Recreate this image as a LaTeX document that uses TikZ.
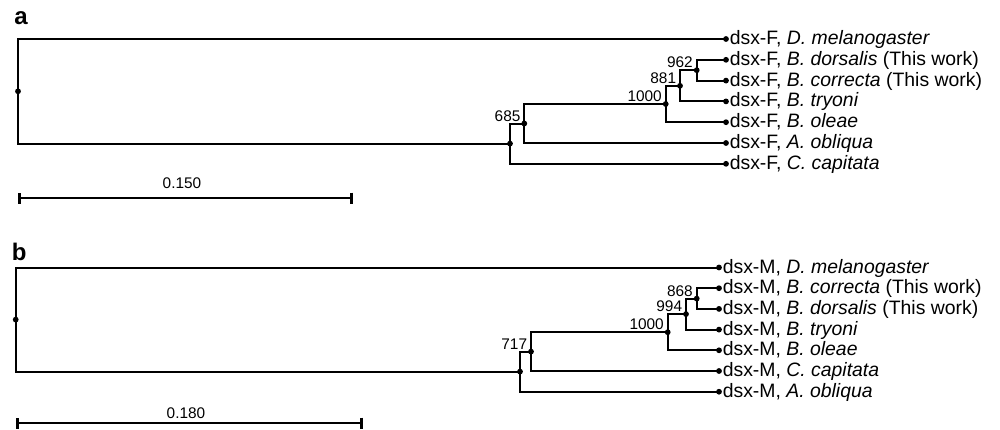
\documentclass[tikz,border=0pt]{standalone}
\usepackage{fontspec}
\setmainfont{Liberation Sans}
\usetikzlibrary{arrows.meta}

\tikzset{
  branch/.style={line width=1pt},
  leaflabel/.style={anchor=base west, inner sep=0pt, xshift=1.7pt, yshift=-2.75pt, font=\fontsize{9.7}{11}\selectfont},
  support/.style={anchor=base east, inner sep=0pt, xshift=-1.75pt, yshift=1.25pt, font=\fontsize{7.7}{9}\selectfont},
  panel/.style={anchor=base west, inner sep=0pt, font=\fontsize{12}{14}\selectfont\bfseries},
  scalebar/.style={line width=1.3pt, {Bar[width=5.5pt]}-{Bar[width=5.5pt]}},
  barlabel/.style={anchor=base, inner sep=0pt, font=\fontsize{7.7}{9}\selectfont}
}

\begin{document}
\begin{tikzpicture}[x=0.5pt, y=-0.5pt]
    \useasboundingbox (0,0) rectangle (1000,429);

    % Panel a: dsx-F
    \node [panel] (labA) at (14,24) {a};

    % Tips a
    \coordinate (Fmel) at (726, 39.0);
    \coordinate (Fdor) at (726, 59.8);
    \coordinate (Fcor) at (726, 80.6);
    \coordinate (Ftry) at (726,101.4);
    \coordinate (Fole) at (726,122.2);
    \coordinate (Fobl) at (726,143.0);
    \coordinate (Fcap) at (726,163.8);

    % Internal nodes a
    \coordinate (F962)  at (696.7, 70.2);
    \coordinate (F881)  at (680.0, 85.8);
    \coordinate (F1000) at (665.7,104.0);
    \coordinate (F685)  at (524.3,123.5);
    \coordinate (Fout)  at (510.0,143.6);
    \coordinate (Froot) at ( 18.0, 91.3);

    % Branches a
    \draw [branch] (Froot) |- (Fmel);
    \draw [branch] (Froot) |- (Fout);
    \draw [branch] (Fout) |- (F685);
    \draw [branch] (Fout) |- (Fcap);
    \draw [branch] (F685) |- (F1000);
    \draw [branch] (F685) |- (Fobl);
    \draw [branch] (F1000) |- (F881);
    \draw [branch] (F1000) |- (Fole);
    \draw [branch] (F881) |- (F962);
    \draw [branch] (F881) |- (Ftry);
    \draw [branch] (F962) |- (Fdor);
    \draw [branch] (F962) |- (Fcor);
    \foreach \n in {Fmel,Fdor,Fcor,Ftry,Fole,Fobl,Fcap,F962,F881,F1000,F685,Fout,Froot}
        \fill (\n) circle (1.45pt);

    % Support values a
    \node [support] (sF962)  at (F962)  {962};
    \node [support] (sF881)  at (F881)  {881};
    \node [support] (sF1000) at (F1000) {1000};
    \node [support] (sF685)  at (F685)  {685};

    % Tip labels a
    \node [leaflabel] (tFmel) at (Fmel) {dsx-F, \textit{D. melanogaster}};
    \node [leaflabel] (tFdor) at (Fdor) {dsx-F, \textit{B. dorsalis} (This work)};
    \node [leaflabel] (tFcor) at (Fcor) {dsx-F, \textit{B. correcta} (This work)};
    \node [leaflabel] (tFtry) at (Ftry) {dsx-F, \textit{B. tryoni}};
    \node [leaflabel] (tFole) at (Fole) {dsx-F, \textit{B. oleae}};
    \node [leaflabel] (tFobl) at (Fobl) {dsx-F, \textit{A. obliqua}};
    \node [leaflabel] (tFcap) at (Fcap) {dsx-F, \textit{C. capitata}};

    % Scale bar a
    \coordinate (barA0) at (18,198);
    \coordinate (barA1) at (353,198);
    \draw [scalebar] (barA0) -- (barA1);
    \node [barlabel] (lbarA) at (182,188.3) {0.150};

    % Panel b: dsx-M
    \node [panel] (labB) at (11.5,260) {b};

    % Tips b
    \coordinate (Mmel) at (719,267.5);
    \coordinate (Mcor) at (719,288.2);
    \coordinate (Mdor) at (719,308.9);
    \coordinate (Mtry) at (719,329.6);
    \coordinate (Mole) at (719,350.3);
    \coordinate (Mcap) at (719,371.0);
    \coordinate (Mobl) at (719,391.7);

    % Internal nodes b
    \coordinate (M868)  at (696.7,298.6);
    \coordinate (M994)  at (686.0,314.1);
    \coordinate (M1000) at (667.7,332.2);
    \coordinate (M717)  at (531.0,351.6);
    \coordinate (Mout)  at (520.0,371.6);
    \coordinate (Mroot) at ( 15.7,319.6);

    % Branches b
    \draw [branch] (Mroot) |- (Mmel);
    \draw [branch] (Mroot) |- (Mout);
    \draw [branch] (Mout) |- (M717);
    \draw [branch] (Mout) |- (Mobl);
    \draw [branch] (M717) |- (M1000);
    \draw [branch] (M717) |- (Mcap);
    \draw [branch] (M1000) |- (M994);
    \draw [branch] (M1000) |- (Mole);
    \draw [branch] (M994) |- (M868);
    \draw [branch] (M994) |- (Mtry);
    \draw [branch] (M868) |- (Mcor);
    \draw [branch] (M868) |- (Mdor);
    \foreach \n in {Mmel,Mcor,Mdor,Mtry,Mole,Mcap,Mobl,M868,M994,M1000,M717,Mout,Mroot}
        \fill (\n) circle (1.45pt);

    % Support values b
    \node [support] (sM868)  at (M868)  {868};
    \node [support] (sM994)  at (M994)  {994};
    \node [support] (sM1000) at (M1000) {1000};
    \node [support] (sM717)  at (M717)  {717};

    % Tip labels b
    \node [leaflabel] (tMmel) at (Mmel) {dsx-M, \textit{D. melanogaster}};
    \node [leaflabel] (tMcor) at (Mcor) {dsx-M, \textit{B. correcta} (This work)};
    \node [leaflabel] (tMdor) at (Mdor) {dsx-M, \textit{B. dorsalis} (This work)};
    \node [leaflabel] (tMtry) at (Mtry) {dsx-M, \textit{B. tryoni}};
    \node [leaflabel] (tMole) at (Mole) {dsx-M, \textit{B. oleae}};
    \node [leaflabel] (tMcap) at (Mcap) {dsx-M, \textit{C. capitata}};
    \node [leaflabel] (tMobl) at (Mobl) {dsx-M, \textit{A. obliqua}};

    % Scale bar b
    \coordinate (barB0) at (16,423);
    \coordinate (barB1) at (363,423);
    \draw [scalebar] (barB0) -- (barB1);
    \node [barlabel] (lbarB) at (186,418.3) {0.180};
\end{tikzpicture}
\end{document}
